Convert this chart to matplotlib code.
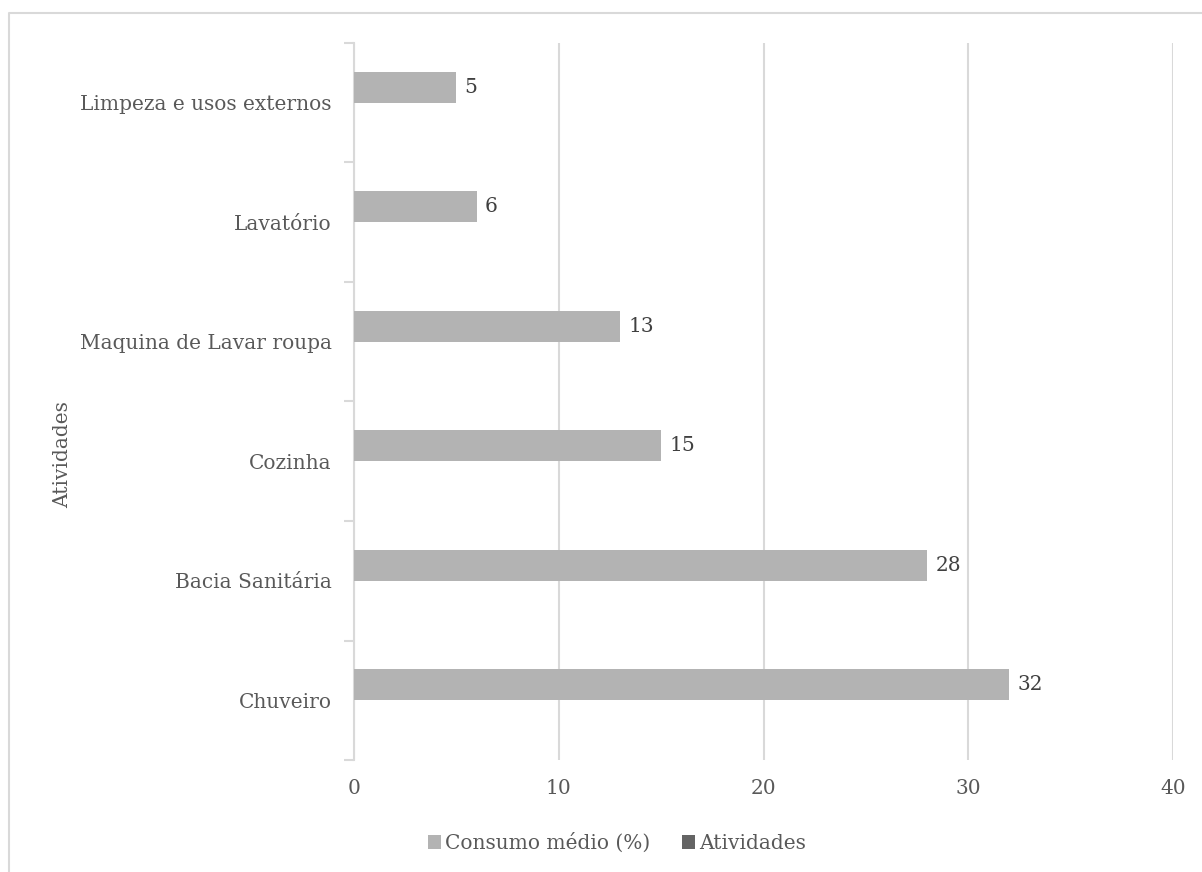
import numpy as np
import matplotlib
matplotlib.use('Agg')
import matplotlib.pyplot as plt
from matplotlib.patches import Patch
from matplotlib.lines import Line2D

# Chart data (bottom to top, as drawn)
categories = ['Chuveiro', 'Bacia Sanitária', 'Cozinha',
              'Maquina de Lavar roupa', 'Lavatório', 'Limpeza e usos externos']
consumo = [32, 28, 15, 13, 6, 5]
x_ticks = [0, 10, 20, 30, 40]

plt.rcParams['font.family'] = ['DejaVu Serif']
TEXT = '#595959'
LABEL = '#404040'
BAR = '#b3b3b3'
BAR2 = '#646464'
GRID = '#d9d9d9'
FS = 14.5

W, H = 1202, 872
fig = plt.figure(figsize=(W / 100, H / 100), dpi=100)
ax = fig.add_axes([354 / W, 1 - 760 / H, (1173 - 354) / W, (760 - 43) / H])

# chart area border (only top and left edges are inside the image)
fig.lines.append(Line2D([9 / W, 9 / W, 1], [0, 1 - 13 / H, 1 - 13 / H],
                        transform=fig.transFigure, color=GRID, linewidth=1.5))

y = np.arange(len(categories))
h = 0.26
bars = ax.barh(y + h / 2, consumo, height=h, color=BAR, zorder=3)

for rect, v in zip(bars, consumo):
    ax.text(rect.get_width() + 0.4, rect.get_y() + rect.get_height() / 2, str(v),
            va='center', ha='left', fontsize=FS, color=LABEL)

ax.set_xlim(0, 40)
ax.set_ylim(-0.5, len(categories) - 0.5)
ax.set_xticks(x_ticks)
ax.set_yticks(y)
ax.set_yticklabels(categories)
ax.set_yticks(np.arange(-0.5, len(categories)), minor=True)

ax.grid(axis='x', color=GRID, linewidth=1.5, zorder=0)
for s in ['top', 'right', 'bottom']:
    ax.spines[s].set_visible(False)
ax.spines['left'].set_color(GRID)
ax.spines['left'].set_linewidth(1.5)

ax.tick_params(axis='x', length=0, pad=14, labelsize=FS, labelcolor=TEXT)
ax.tick_params(axis='y', which='major', length=0, pad=16, labelsize=FS, labelcolor=TEXT)
ax.tick_params(axis='y', which='minor', length=7, width=1.5, color=GRID)

fig.text(63 / W, 1 - 455 / H, 'Atividades', rotation=90, ha='center', va='center',
         fontsize=FS, color=TEXT)

handles = [Patch(facecolor=BAR), Patch(facecolor=BAR2)]
fig.legend(handles, ['Consumo médio (%)', 'Atividades'], loc='center',
           bbox_to_anchor=(617 / W, 1 - 843 / H), ncol=2, frameon=False,
           fontsize=FS, labelcolor=TEXT, handlelength=0.65, handleheight=0.65,
           handletextpad=0.2, columnspacing=1.6)

fig.savefig('out.png', dpi=100)
